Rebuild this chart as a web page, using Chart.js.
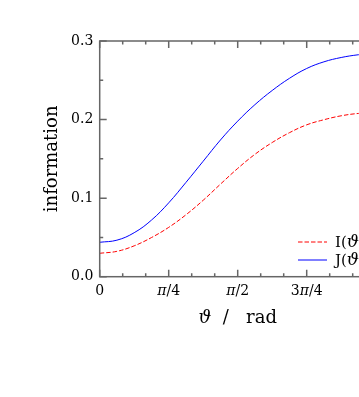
<!DOCTYPE html>
<html>
<head>
<meta charset="utf-8">
<script src="https://cdn.jsdelivr.net/npm/chart.js@4/dist/chart.umd.min.js"></script>
<style>
  html, body { margin: 0; padding: 0; overflow: hidden; background: #fff; }
  #wrap { width: 400px; height: 397px; }
</style>
</head>
<body>
<div id="wrap"><canvas id="chart" width="400" height="397"></canvas></div>
<script>
// angle in units of pi, read every pi/16
const thetaOverPi = [0, 0.0625, 0.125, 0.1875, 0.25, 0.3125, 0.375, 0.4375, 0.5,
                     0.5625, 0.625, 0.6875, 0.75, 0.8125, 0.875, 0.9375, 1];
const infoI = [0.0298, 0.0323, 0.0393, 0.0498, 0.0628, 0.0788, 0.0973, 0.1178, 0.1378,
               0.1558, 0.1708, 0.1833, 0.1933, 0.1998, 0.2048, 0.2078, 0.2088];
const infoJ = [0.0438, 0.0465, 0.056, 0.072, 0.094, 0.120, 0.147, 0.174, 0.198,
               0.219, 0.237, 0.2525, 0.265, 0.2735, 0.279, 0.2825, 0.2845];
const xTickOverPi = [0, 0.25, 0.5, 0.75, 1];
const xTickLabels = [['0'], ['π', '/4'], ['π', '/2'], ['3', 'π', '/4'], ['π']];
const xTickItalic = [[false], [true, false], [true, false], [false, true, false], [true]];

const SERIF = '"DejaVu Serif", "Liberation Serif", serif';
const AXIS_GREY = '#666';

/** 文字裡的 ϑ、π 是斜體，其餘直體：逐段量寬再畫 */
function drawMixed(ctx, parts, x, y, size, align) {
    const fontOf = p => `${p.italic ? 'italic ' : ''}${p.size || size}px ${SERIF}`;
    const widths = parts.map(p => {
        ctx.font = fontOf(p);
        return ctx.measureText(p.text).width;
    });
    const total = widths.reduce((a, b) => a + b, 0);
    let cx = align === 'center' ? x - total / 2 : x;
    ctx.textBaseline = 'middle';
    ctx.textAlign = 'left';
    parts.forEach((p, i) => {
        ctx.font = fontOf(p);
        ctx.fillText(p.text, cx, y);
        cx += widths[i];
    });
}

const framePlugin = {
    id: 'frame',
    afterDatasetsDraw(chart) {
        const { ctx, chartArea: a, scales: { x, y } } = chart;
        ctx.save();
        ctx.strokeStyle = AXIS_GREY;
        ctx.lineWidth = 1.5;
        ctx.strokeRect(a.left, a.top, a.right - a.left, a.bottom - a.top);

        // inward ticks on all four sides
        ctx.beginPath();
        for (let k = 0; k <= 12; k++) {
            const px = x.getPixelForValue(k * Math.PI / 12);
            const len = k % 3 === 0 ? 7 : 3.5;
            ctx.moveTo(px, a.bottom); ctx.lineTo(px, a.bottom - len);
            ctx.moveTo(px, a.top); ctx.lineTo(px, a.top + len);
        }
        for (let k = 0; k <= 6; k++) {
            const py = y.getPixelForValue(k * 0.05);
            const len = k % 2 === 0 ? 7 : 3.5;
            ctx.moveTo(a.left, py); ctx.lineTo(a.left + len, py);
            ctx.moveTo(a.right, py); ctx.lineTo(a.right - len, py);
        }
        ctx.stroke();

        // x tick labels
        ctx.fillStyle = '#000';
        xTickOverPi.forEach((f, i) => {
            const px = x.getPixelForValue(f * Math.PI);
            const parts = xTickLabels[i].map((t, j) => ({ text: t, italic: xTickItalic[i][j] }));
            drawMixed(ctx, parts, px, 291.5, 14, 'center');
        });

        // x axis title
        drawMixed(ctx, [
            { text: 'ϑ', italic: true },
            { text: '\u00a0\u00a0/\u00a0\u00a0\u00a0rad', italic: false }
        ], (a.left + a.right) / 2, 318, 18, 'center');

        // legend, bottom right inside the frame
        const entries = [
            { ds: chart.data.datasets[0], name: 'I', y: 242 },
            { ds: chart.data.datasets[1], name: 'J', y: 260 }
        ];
        entries.forEach(e => {
            ctx.strokeStyle = e.ds.borderColor;
            ctx.lineWidth = 1;
            ctx.setLineDash(e.ds.borderDash || []);
            ctx.beginPath();
            ctx.moveTo(298, e.y); ctx.lineTo(327, e.y);
            ctx.stroke();
            ctx.setLineDash([]);
            drawMixed(ctx, [
                { text: e.name + '(', italic: false },
                { text: 'ϑ', italic: true, size: 17 },
                { text: ')', italic: false }
            ], 335, e.y + 1, 15, 'left');
        });
        ctx.restore();
    }
};

const toPoints = values => values.map((v, i) => ({ x: thetaOverPi[i] * Math.PI, y: v }));

new Chart(document.getElementById('chart'), {
    type: 'line',
    data: {
        datasets: [
            {
                label: 'I(ϑ)', data: toPoints(infoI),
                borderColor: '#ff0000', borderWidth: 1, borderDash: [4.5, 2],
                pointRadius: 0, tension: 0.4
            },
            {
                label: 'J(ϑ)', data: toPoints(infoJ),
                borderColor: '#0000ff', borderWidth: 1,
                pointRadius: 0, tension: 0.4
            }
        ]
    },
    options: {
        responsive: false,
        animation: false,
        devicePixelRatio: 1,
        layout: { padding: { top: 41, right: 24.3, bottom: 0, left: 0 } },
        plugins: { legend: { display: false }, tooltip: { enabled: false } },
        scales: {
            x: {
                type: 'linear', min: 0, max: Math.PI,
                grid: { display: false, drawTicks: false },
                border: { display: false },
                ticks: { display: false },
                afterFit: s => { s.height = 120.3; }
            },
            y: {
                min: 0, max: 0.3,
                grid: { display: false, drawTicks: false },
                border: { display: false },
                ticks: {
                    stepSize: 0.1, padding: 6.4, color: '#000',
                    font: { family: SERIF, size: 14 },
                    callback: v => v.toFixed(1)
                },
                title: {
                    display: true, text: 'information', color: '#000',
                    font: { family: SERIF, size: 18 },
                    padding: { top: 41.2, bottom: 0 }
                },
                afterFit: s => { s.width = 99.7; }
            }
        }
    },
    plugins: [framePlugin]
});
</script>
</body>
</html>
